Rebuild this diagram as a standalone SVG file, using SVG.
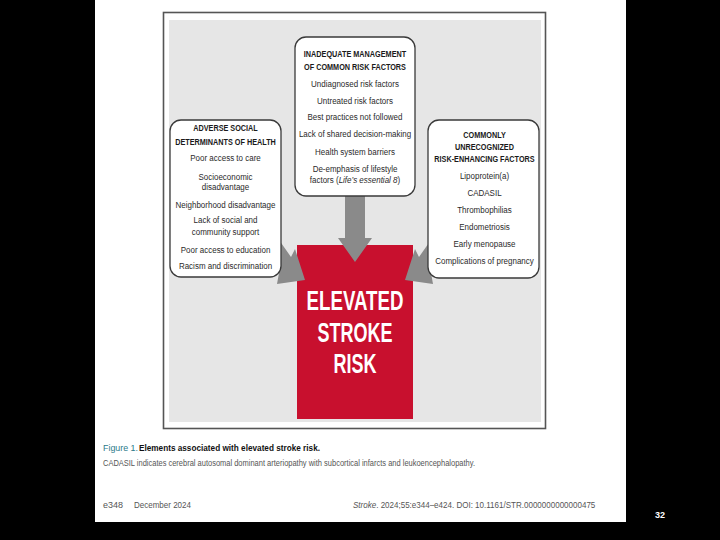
<svg xmlns="http://www.w3.org/2000/svg" width="720" height="540" viewBox="0 0 720 540">
<style>
.h{font-family:"Liberation Sans",Arial,sans-serif;font-weight:bold;font-size:9.2px;fill:#1a1a1a;text-anchor:middle}
.t{font-family:"Liberation Sans",Arial,sans-serif;font-size:9.3px;fill:#2a2a2a;text-anchor:middle}
.box{fill:#ffffff;stroke:#3a3a3a;stroke-width:1.3}
.arr{fill:#8a8a8a}
.big{font-family:"Liberation Sans",Arial,sans-serif;font-weight:bold;font-size:27px;fill:#ffffff;text-anchor:middle}
.cap{font-family:"Liberation Sans",Arial,sans-serif;font-size:9.5px;fill:#555555}
</style>
<rect x="0" y="0" width="720" height="540" fill="#000000"/>
<rect x="95" y="0" width="531" height="522" fill="#ffffff"/>
<rect x="163.5" y="12.5" width="382" height="416" fill="#ffffff" stroke="#555555" stroke-width="1.6"/>
<rect x="169" y="20" width="372" height="402" fill="#e6e6e6"/>

<g id="elevated-stroke-risk">
<rect x="297" y="245" width="116" height="174" fill="#c8102e"/>
<text class="big" x="355" y="310" textLength="97" lengthAdjust="spacingAndGlyphs">ELEVATED</text>
<text class="big" x="355" y="342" textLength="75" lengthAdjust="spacingAndGlyphs">STROKE</text>
<text class="big" x="355" y="373" textLength="43" lengthAdjust="spacingAndGlyphs">RISK</text>
</g>

<g id="connectors">
<polygon class="arr" points="345,190 365,190 365,238 372,238 355,262 338,238 345,238"/>
<polygon class="arr" points="252,235 265,220 291,257 295,249 305,280 277,284 279,273"/>
<polygon class="arr" points="458,235 445,220 419,257 415,249 405,280 433,284 431,273"/>
</g>

<g id="inadequate-management">
<rect class="box" x="295" y="37" width="120" height="159" rx="11"/>
<g transform="translate(355 0) scale(0.79 1)">
<text class="h" x="0" y="57.5">INADEQUATE MANAGEMENT</text>
<text class="h" x="0" y="70.5">OF COMMON RISK FACTORS</text>
</g>
<g transform="translate(355 0) scale(0.86 1)">
<text class="t" x="0" y="87.5">Undiagnosed risk factors</text>
<text class="t" x="0" y="104">Untreated risk factors</text>
<text class="t" x="0" y="120.5">Best practices not followed</text>
<text class="t" x="0" y="137.5">Lack of shared decision-making</text>
<text class="t" x="0" y="155">Health system barriers</text>
<text class="t" x="0" y="172">De-emphasis of lifestyle</text>
<text class="t" x="0" y="183.5">factors (<tspan font-style="italic">Life’s essential 8</tspan>)</text>
</g>
</g>

<g id="adverse-social-determinants">
<rect class="box" x="170" y="120" width="111" height="157" rx="11"/>
<g transform="translate(225.5 0) scale(0.79 1)">
<text class="h" x="0" y="131.5">ADVERSE SOCIAL</text>
<text class="h" x="0" y="145">DETERMINANTS OF HEALTH</text>
</g>
<g transform="translate(225.5 0) scale(0.86 1)">
<text class="t" x="0" y="161.5">Poor access to care</text>
<text class="t" x="0" y="180">Socioeconomic</text>
<text class="t" x="0" y="190.5">disadvantage</text>
<text class="t" x="0" y="208.3">Neighborhood disadvantage</text>
<text class="t" x="0" y="223.3">Lack of social and</text>
<text class="t" x="0" y="235">community support</text>
<text class="t" x="0" y="252.6">Poor access to education</text>
<text class="t" x="0" y="269.3">Racism and discrimination</text>
</g>
</g>

<g id="unrecognized-risk-enhancing">
<rect class="box" x="428" y="120" width="111" height="158" rx="11"/>
<g transform="translate(484.5 0) scale(0.79 1)">
<text class="h" x="0" y="138.5">COMMONLY</text>
<text class="h" x="0" y="150.5">UNRECOGNIZED</text>
<text class="h" x="0" y="162.5">RISK-ENHANCING FACTORS</text>
</g>
<g transform="translate(484.5 0) scale(0.86 1)">
<text class="t" x="0" y="179">Lipoprotein(a)</text>
<text class="t" x="0" y="196">CADASIL</text>
<text class="t" x="0" y="213">Thrombophilias</text>
<text class="t" x="0" y="230">Endometriosis</text>
<text class="t" x="0" y="247">Early menopause</text>
<text class="t" x="0" y="264">Complications of pregnancy</text>
</g>
</g>

<text class="cap" x="103" y="451" style="fill:#2b7a8a" textLength="35" lengthAdjust="spacingAndGlyphs">Figure 1.</text>
<text class="cap" x="139" y="451" style="fill:#111111;font-weight:bold" textLength="181" lengthAdjust="spacingAndGlyphs">Elements associated with elevated stroke risk.</text>
<text class="cap" x="103" y="465.5" textLength="372" lengthAdjust="spacingAndGlyphs">CADASIL indicates cerebral autosomal dominant arteriopathy with subcortical infarcts and leukoencephalopathy.</text>
<text class="cap" x="103" y="508" textLength="20" lengthAdjust="spacingAndGlyphs">e348</text>
<text class="cap" x="134" y="508" textLength="57" lengthAdjust="spacingAndGlyphs">December 2024</text>
<g transform="translate(353 508) scale(0.845 1)">
<text class="cap" x="0" y="0"><tspan font-style="italic">Stroke</tspan>. 2024;55:e344–e424. DOI: 10.1161/STR.0000000000000475</text>
</g>
<text x="660" y="518" font-family="Liberation Sans, Arial, sans-serif" font-size="9" font-weight="bold" fill="#ffffff" text-anchor="middle">32</text>
</svg>
